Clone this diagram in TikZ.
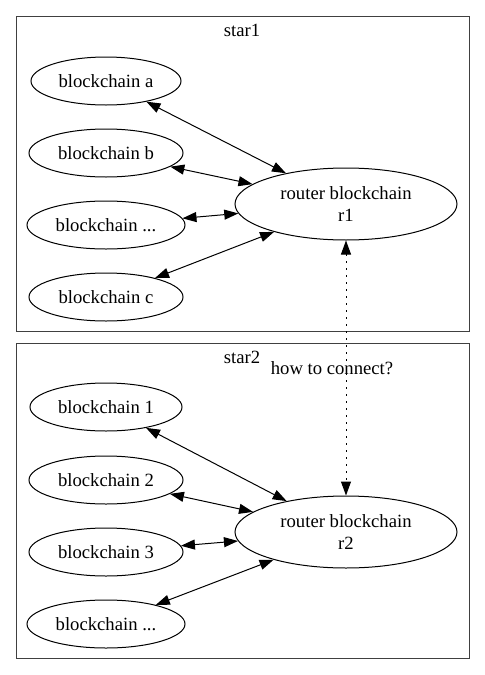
\documentclass[tikz,border=0pt]{standalone}
\usepackage{fontspec}
\setmainfont{Liberation Serif}
\usetikzlibrary{shapes.geometric,arrows.meta}
\tikzset{
  chain/.style={draw,ellipse,inner sep=0pt,minimum height=36pt,
                line width=0.75pt},
  router/.style={chain,minimum width=166.5pt,minimum height=54pt,
                 align=center},
  link/.style={line width=0.75pt,
               {Triangle[length=10.5pt,width=7.5pt]}-{Triangle[length=10.5pt,width=7.5pt]}},
  bridge/.style={link,dash pattern=on 1.5pt off 3.75pt},
  cluster/.style={draw=black!75,line width=0.75pt}
}
\begin{document}
\begin{tikzpicture}[x=0.75pt,y=-0.75pt,
    every node/.style={font=\fontsize{14pt}{16pt}\selectfont}]
  \useasboundingbox (0,0) rectangle (485,675);
  % star1
  \draw[cluster] (16,16) rectangle (469,331);
  \node (star1) at (242,30) {star1};
  \node[chain,minimum width=112.5pt] (ca) at (106,81) {blockchain a};
  \node[chain,minimum width=115.5pt] (cb) at (106,153) {blockchain b};
  \node[chain,minimum width=118.5pt] (cx) at (106,225) {blockchain ...};
  \node[chain,minimum width=115.5pt] (cc) at (106,297) {blockchain c};
  \node[router] (r1) at (346,204) {router blockchain\\r1};
  \foreach \n in {ca,cb,cx,cc}
    \draw[link] (\n) -- (r1);
  % star2
  \draw[cluster] (16,343) rectangle (469,658);
  \node (star2) at (242,357) {star2};
  \node[chain,minimum width=114pt] (c1) at (106,407) {blockchain 1};
  \node[chain,minimum width=115.5pt] (c2) at (106,480) {blockchain 2};
  \node[chain,minimum width=115.5pt] (c3) at (106,552) {blockchain 3};
  \node[chain,minimum width=118.5pt] (c4) at (106,624) {blockchain ...};
  \node[router] (r2) at (346,532) {router blockchain\\r2};
  \foreach \n in {c1,c2,c3,c4}
    \draw[link] (\n) -- (r2);
  % between the stars
  \draw[bridge] (r1) -- (r2)
    node[midway,xshift=-10.5pt] (ask) {how to connect?};
\end{tikzpicture}
\end{document}
